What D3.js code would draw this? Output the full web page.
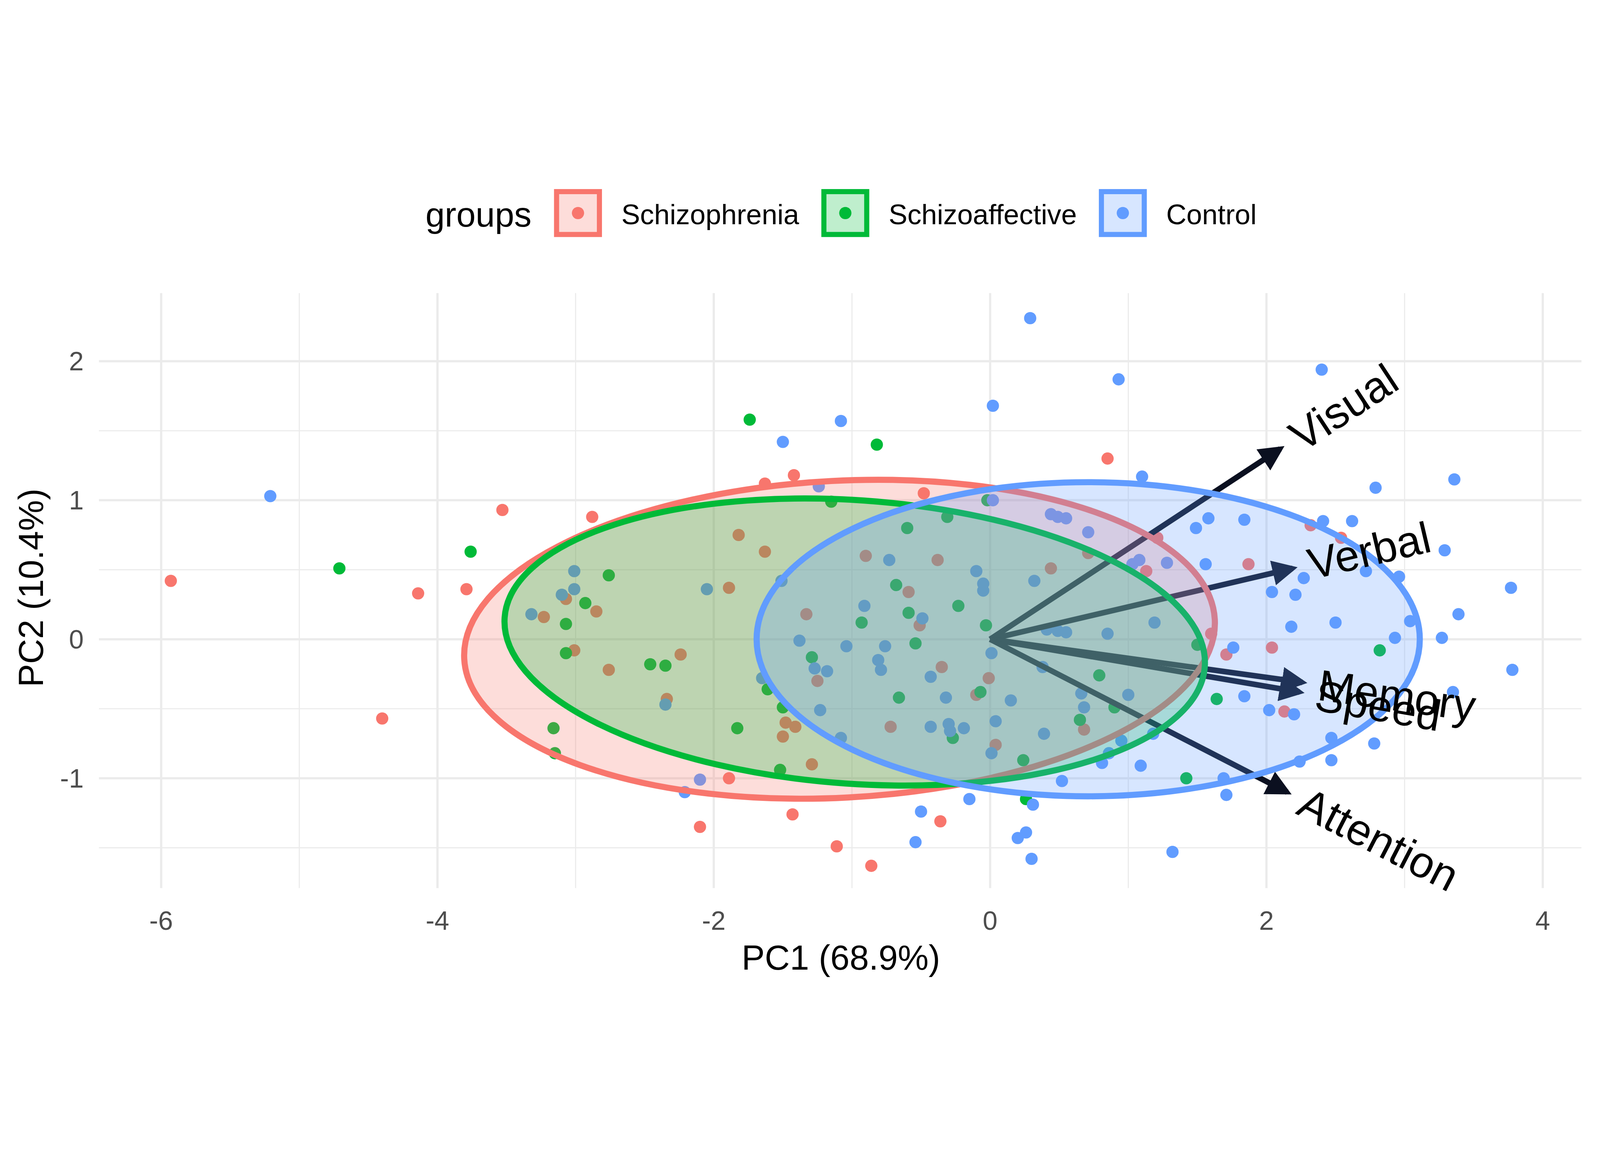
<!DOCTYPE html>
<html>
<head>
<meta charset="utf-8">
<script src="https://cdn.jsdelivr.net/npm/d3@7"></script>
<style>
  body { margin: 0; background: #fff; }
  text { font-family: "Liberation Sans", Arial, sans-serif; }
</style>
</head>
<body>
<svg id="chart"></svg>
<script>
// group order and colours
const groups = ['Schizophrenia', 'Schizoaffective', 'Control'];
const colors = ['#F8766D', '#00BA38', '#619CFF'];

// PCA scores [PC1, PC2]
const schizophrenia = [
  [-5.93, 0.42], [-4.14, 0.33], [-3.79, 0.36], [-3.53, 0.93], [-4.40, -0.57], [-2.88, 0.88],
  [-3.07, 0.29], [-3.23, 0.16], [-2.85, 0.20], [-3.01, -0.08], [-2.76, -0.22], [-2.34, -0.43],
  [-2.24, -0.11], [-1.89, 0.37], [-1.82, 0.75], [-1.63, 0.63], [-1.63, 1.12], [-1.42, 1.18],
  [-1.89, -1.0], [-2.10, -1.35], [-1.43, -1.26], [-1.48, -0.60], [-1.50, -0.70], [-1.41, -0.63],
  [-1.29, -0.90], [-1.33, 0.18], [-1.25, -0.30], [-1.11, -1.49], [-0.86, -1.63], [-0.72, -0.63],
  [-0.90, 0.60], [-0.59, 0.34], [-0.51, 0.10], [-0.38, 0.57], [-0.35, -0.20], [-0.36, -1.31],
  [-0.48, 1.05], [-0.01, -0.28], [-0.10, -0.40], [0.44, 0.51], [0.71, 0.62], [0.85, 1.30],
  [1.21, 0.73], [1.13, 0.49], [1.60, 0.04], [1.71, -0.11], [1.87, 0.54], [2.04, -0.06],
  [2.32, 0.82], [2.54, 0.73], [2.13, -0.52], [0.68, -0.65], [0.04, -0.76]
];
const schizoaffective = [
  [-4.71, 0.51], [-3.76, 0.63], [-2.76, 0.46], [-2.93, 0.26], [-3.07, 0.11], [-3.07, -0.10],
  [-3.16, -0.64], [-3.15, -0.82], [-2.46, -0.18], [-2.35, -0.19], [-1.83, -0.64], [-1.74, 1.58],
  [-0.82, 1.40], [-1.15, 0.99], [-1.61, -0.36], [-1.50, -0.49], [-1.52, -0.94], [-0.93, 0.12],
  [-0.68, 0.39], [-0.59, 0.19], [-0.60, 0.80], [-0.54, -0.03], [-0.66, -0.42], [-0.31, 0.88],
  [-0.23, 0.24], [-0.03, 0.10], [-0.02, 1.0], [-0.07, -0.38], [-0.27, -0.71], [0.24, -0.87],
  [0.26, -1.15], [0.79, -0.26], [0.90, -0.49], [1.50, -0.04], [1.64, -0.43], [1.42, -1.0],
  [2.82, -0.08], [-1.29, -0.13], [0.65, -0.58]
];
const control = [
  [-5.21, 1.03], [0.29, 2.31], [0.93, 1.87], [2.40, 1.94], [0.02, 1.68], [-1.08, 1.57],
  [-1.50, 1.42], [1.10, 1.17], [2.79, 1.09], [3.36, 1.15], [3.77, 0.37], [3.78, -0.22],
  [3.39, 0.18], [3.29, 0.64], [3.27, 0.01], [3.04, 0.13], [2.93, 0.01], [2.96, 0.45],
  [2.72, 0.49], [2.50, 0.12], [2.62, 0.85], [2.41, 0.85], [2.27, 0.44], [2.21, 0.32],
  [2.04, 0.34], [2.18, 0.09], [1.84, 0.86], [1.58, 0.87], [1.49, 0.80], [1.56, 0.54],
  [1.76, -0.06], [1.84, -0.41], [2.02, -0.51], [2.20, -0.54], [2.47, -0.71], [2.78, -0.75],
  [2.24, -0.88], [2.47, -0.87], [3.35, -0.38], [1.69, -1.0], [1.71, -1.12], [1.32, -1.53],
  [1.09, -0.91], [0.81, -0.89], [0.95, -0.73], [1.00, -0.40], [0.85, 0.04], [1.19, 0.12],
  [1.28, 0.55], [1.03, 0.54], [1.08, 0.57], [0.49, 0.88], [0.55, 0.87], [0.71, 0.77],
  [0.32, 0.42], [0.41, 0.07], [0.49, 0.06], [0.55, 0.05], [0.38, -0.20], [0.66, -0.39],
  [0.68, -0.49], [0.39, -0.68], [0.15, -0.44], [0.04, -0.59], [0.01, -0.82], [0.01, -0.10],
  [-0.05, 0.35], [-0.10, 0.49], [-0.05, 0.40], [0.02, 1.0], [-0.43, -0.27], [-0.32, -0.42],
  [-0.43, -0.63], [-0.30, -0.61], [-0.29, -0.66], [-0.19, -0.64], [-0.15, -1.15], [-0.50, -1.24],
  [-0.54, -1.46], [0.26, -1.39], [0.20, -1.43], [0.30, -1.58], [0.31, -1.19], [-0.81, -0.15],
  [-0.79, -0.22], [-0.76, -0.05], [-0.91, 0.24], [-0.73, 0.57], [-0.49, 0.15], [-1.04, -0.05],
  [-1.18, -0.23], [-1.27, -0.21], [-1.38, -0.01], [-1.23, -0.51], [-1.08, -0.71], [-1.51, 0.42],
  [-1.65, -0.28], [-2.05, 0.36], [-2.35, -0.47], [-2.21, -1.10], [-2.10, -1.01], [-3.01, 0.49],
  [-3.01, 0.36], [-3.10, 0.32], [-3.32, 0.18], [-1.24, 1.10], [0.52, -1.02], [0.86, -0.82],
  [1.18, -0.68], [0.44, 0.90]
];
const scores = [schizophrenia, schizoaffective, control];

// normal-probability ellipses: [cx, cy, rx, ry, angle in degrees]
const ellipses = [
  [-1.09, 0.0, 2.72, 1.14, -3],
  [-0.98, -0.02, 2.54, 1.02, 4],
  [0.71, 0.0, 2.40, 1.13, 0]
];

// variable loadings (scaled)
const variables = ['Visual', 'Verbal', 'Memory', 'Speed', 'Attention'];
const loadings = [[2.10, 1.37], [2.19, 0.51], [2.26, -0.31], [2.24, -0.38], [2.15, -1.10]];

const xTicks = [-6, -4, -2, 0, 2, 4];
const yTicks = [-1, 0, 1, 2];
const xMinor = [-5, -3, -1, 1, 3];
const yMinor = [-1.5, -0.5, 0.5, 1.5];

const W = 1608, H = 1148;
const svg = d3.select('#chart')
  .attr('width', 4200).attr('height', 3000)
  .attr('viewBox', `0 0 ${W} ${H}`);

const x = d3.scaleLinear().domain([-6.45, 4.28]).range([97, 1550]);
const y = d3.scaleLinear().domain([-1.79, 2.49]).range([870, 287]);

// grid
const grid = svg.append('g');
const vline = (sel, w) => sel.attr('x1', d => x(d)).attr('x2', d => x(d))
  .attr('y1', 287).attr('y2', 870).attr('stroke', '#EBEBEB').attr('stroke-width', w);
const hline = (sel, w) => sel.attr('y1', d => y(d)).attr('y2', d => y(d))
  .attr('x1', 97).attr('x2', 1550).attr('stroke', '#EBEBEB').attr('stroke-width', w);
vline(grid.append('g').selectAll('line').data(xMinor).join('line'), 1.1);
hline(grid.append('g').selectAll('line').data(yMinor).join('line'), 1.1);
vline(grid.append('g').selectAll('line').data(xTicks).join('line'), 2.2);
hline(grid.append('g').selectAll('line').data(yTicks).join('line'), 2.2);

// tick labels
svg.append('g').selectAll('text').data(xTicks).join('text')
  .attr('x', d => x(d)).attr('y', 911).attr('text-anchor', 'middle')
  .attr('font-size', 26).attr('fill', '#4D4D4D').text(d => d);
svg.append('g').selectAll('text').data(yTicks).join('text')
  .attr('x', 82).attr('y', d => y(d)).attr('dy', '0.35em').attr('text-anchor', 'end')
  .attr('font-size', 26).attr('fill', '#4D4D4D').text(d => d);

svg.append('text').attr('x', x(-1.08)).attr('y', 950).attr('text-anchor', 'middle')
  .attr('font-size', 34).text('PC1 (68.9%)');
svg.append('text').attr('transform', `translate(42,${y(0.37)}) rotate(-90)`)
  .attr('text-anchor', 'middle').attr('font-size', 34).text('PC2 (10.4%)');

// points
scores.forEach((pts, i) => {
  svg.append('g').selectAll('circle').data(pts).join('circle')
    .attr('cx', d => x(d[0])).attr('cy', d => y(d[1])).attr('r', 6)
    .attr('fill', colors[i]);
});

// arrows
const defs = svg.append('defs');
defs.append('marker').attr('id', 'head')
  .attr('viewBox', '0 0 10 10').attr('refX', 8).attr('refY', 5)
  .attr('markerWidth', 4.5).attr('markerHeight', 4.5).attr('orient', 'auto')
  .append('path').attr('d', 'M0,0 L10,5 L0,10 Z').attr('fill', '#0B1020');
svg.append('g').selectAll('line').data(loadings).join('line')
  .attr('x1', x(0)).attr('y1', y(0))
  .attr('x2', d => x(d[0])).attr('y2', d => y(d[1]))
  .attr('stroke', '#0B1020').attr('stroke-width', 5.5)
  .attr('marker-end', 'url(#head)');

// ellipses
const ell = svg.append('g');
ellipses.forEach((e, i) => {
  const [cx, cy, rx, ry, a] = e;
  ell.append('ellipse')
    .attr('transform', `translate(${x(cx)},${y(cy)}) rotate(${a})`)
    .attr('rx', x(rx) - x(0)).attr('ry', y(0) - y(ry))
    .attr('fill', colors[i]).attr('fill-opacity', 0.25)
    .attr('stroke', colors[i]).attr('stroke-width', 6);
});

// variable labels
svg.append('g').selectAll('text').data(loadings).join('text')
  .attr('transform', d => {
    const px = x(d[0]) - x(0), py = y(d[1]) - y(0);
    const ang = Math.atan2(py, px) * 180 / Math.PI;
    const len = Math.hypot(px, py);
    const ux = px / len, uy = py / len;
    return `translate(${x(d[0]) + ux * 16},${y(d[1]) + uy * 16}) rotate(${ang})`;
  })
  .attr('dy', '0.35em').attr('font-size', 43).attr('fill', '#000')
  .text((d, i) => variables[i]);

// legend
const lg = svg.append('g');
lg.append('text').attr('x', 417).attr('y', 210).attr('dy', '0.35em')
  .attr('font-size', 34).text('groups');
const keyX = [543, 805, 1077];
groups.forEach((g, i) => {
  lg.append('rect').attr('x', keyX[i] + 2.5).attr('y', 187.5).attr('width', 42).attr('height', 42)
    .attr('fill', colors[i]).attr('fill-opacity', 0.25)
    .attr('stroke', colors[i]).attr('stroke-width', 5);
  lg.append('circle').attr('cx', keyX[i] + 23.5).attr('cy', 208.5).attr('r', 6).attr('fill', colors[i]);
  lg.append('text').attr('x', keyX[i] + 66).attr('y', 210).attr('dy', '0.35em')
    .attr('font-size', 27.5).text(g);
});
</script>
</body>
</html>
